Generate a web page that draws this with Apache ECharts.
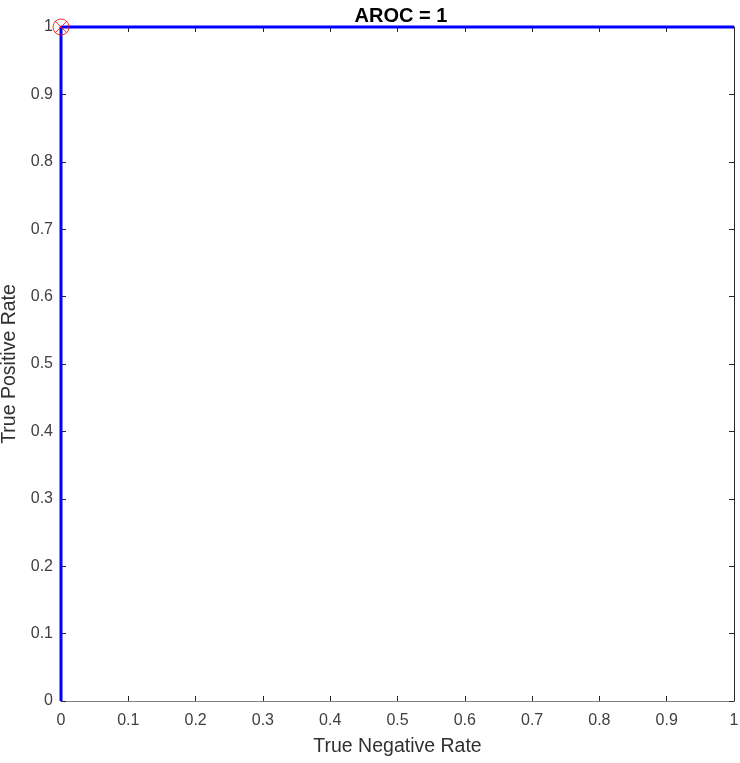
<!DOCTYPE html>
<html><head><meta charset="utf-8">
<script src="https://cdn.jsdelivr.net/npm/echarts@6/dist/echarts.min.js"></script>
<style>html,body{margin:0;padding:0;background:#fff}#c{width:740px;height:763px}</style>
</head><body><div id="c"></div>
<script>
var rocX = [0, 0, 1];
var rocY = [0, 1, 1];
var opX = [0];
var opY = [1];
var titleText = 'AROC = 1';

function fmt(v){ return Math.abs(v-1)<1e-9 ? '1' : (Math.abs(v)<1e-9 ? '0' : v.toFixed(1)); }
var labelStyle = {color:'#404040', fontFamily:'Liberation Sans, Arial', fontSize:16};
function mkAxis(pos, show, name, isY){
  return {
    type:'value', position:pos, min:0, max:1, interval:0.1,
    name: name, nameLocation:'middle', nameGap: isY?39:36,
    nameTextStyle:{color:'#303030', fontFamily:'Liberation Sans, Arial', fontSize:19.5},
    axisLine:{show:true, onZero:false, lineStyle:{color: (pos==='right'||pos==='top') ? '#262626' : '#808080', width:1}},
    axisTick:{show:true, inside:true, length:5, lineStyle:{color:'#262626'}},
    axisLabel:{show:show, formatter:fmt, margin: isY?8:12, ...labelStyle},
    splitLine:{show:false}
  };
}
var chart = echarts.init(document.getElementById('c'));
chart.setOption({
  animation:false,
  title:{text:titleText, left:396, top:1, textAlign:'center',
    textStyle:{fontFamily:'Liberation Sans, Arial', fontSize:20, fontWeight:'bold', color:'#000'}},
  grid:{left:61, right:6, top:27, bottom:62, containLabel:false, outerBoundsMode:'none'},
  xAxis:[mkAxis('bottom', true, 'True Negative Rate', false), mkAxis('top', false, '', false)],
  yAxis:[mkAxis('left', true, 'True Positive Rate', true), mkAxis('right', false, '', true)],
  series:[
    {type:'line', data: rocX.map(function(x,i){return [x, rocY[i]];}), showSymbol:false,
     lineStyle:{color:'#0000ff', width:3}, clip:false, z:3},
    {type:'scatter', data: opX.map(function(x,i){return [x, opY[i]];}), symbol:'circle', symbolSize:16,
     itemStyle:{color:'none', borderColor:'#ff0000', borderWidth:1}, z:5},
    {type:'scatter', data: opX.map(function(x,i){return [x, opY[i]];}),
     symbol:'path://M0,0L10,10M10,0L0,10', symbolSize:12,
     itemStyle:{color:'none', borderColor:'#ff0000', borderWidth:1}, z:5}
  ]
});
</script></body></html>
